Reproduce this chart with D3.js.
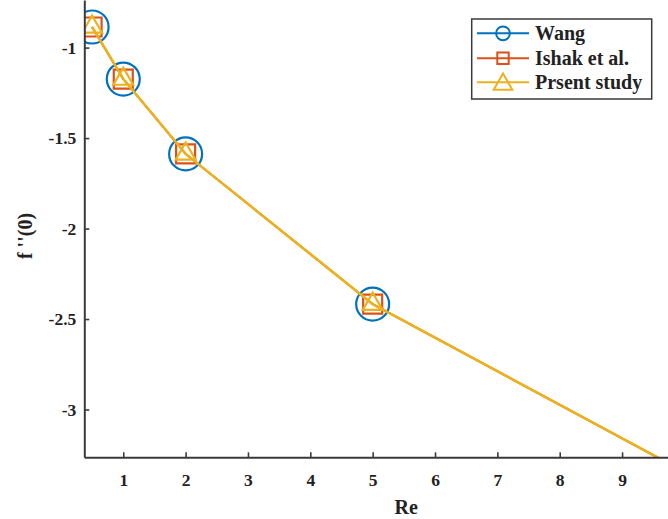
<!DOCTYPE html>
<html>
<head>
<meta charset="utf-8">
<script src="https://cdn.jsdelivr.net/npm/d3@7"></script>
<style>
  body { margin: 0; background: #fff; }
  svg { display: block; overflow: hidden; }
  text { font-family: "Liberation Serif", "Times New Roman", serif; font-weight: bold; fill: #222; }
</style>
</head>
<body>
<svg id="chart"></svg>
<script>
// data
const reValues = [0.5, 1, 2, 5, 10];
const wang = [-0.8862, -1.1737, -1.5874, -2.4175, -3.3445];
const ishak = [-0.8862, -1.1737, -1.5874, -2.4175, -3.3445];
const present = [-0.8862, -1.1737, -1.5874, -2.4175, -3.3445];
const seriesNames = ['Wang', 'Ishak et al.', 'Prsent study'];
const xTicks = [1, 2, 3, 4, 5, 6, 7, 8, 9];
const xTickLabels = ['1', '2', '3', '4', '5', '6', '7', '8', '9'];
const yTicks = [-1, -1.5, -2, -2.5, -3];
const yTickLabels = ['-1', '-1.5', '-2', '-2.5', '-3'];

const W = 668, H = 519;
const plotLeft = 84.3, plotTop = 0, plotBottom = 457.3;

const svg = d3.select('#chart').attr('width', W).attr('height', H);

const x = d3.scaleLinear().domain([0.375, 10]).range([plotLeft, plotLeft + 9.625 * 62.35]);
const y = d3.scaleLinear().domain([-3.264, -0.737]).range([plotBottom, plotTop]);

const colors = ['#0072BD', '#D95319', '#EDB120'];
const shapes = [d3.symbolCircle, d3.symbolSquare, d3.symbolTriangle];
const sizes = [Math.PI * 16.5 * 16.5, 19 * 19, 170];
const lineWidths = [1.8, 1.8, 2.6];

const data = [wang, ishak, present].map((vals, i) => ({
  name: seriesNames[i],
  values: reValues.map((r, j) => ({ re: r, v: vals[j] }))
}));

svg.append('clipPath').attr('id', 'plot-clip')
  .append('rect').attr('x', plotLeft).attr('y', plotTop)
  .attr('width', W - plotLeft).attr('height', plotBottom - plotTop);

const plot = svg.append('g').attr('clip-path', 'url(#plot-clip)');

const line = d3.line().x(d => x(d.re)).y(d => y(d.v));

// each series: line then its markers
data.forEach((s, i) => {
  plot.append('path')
    .attr('d', line(s.values))
    .attr('fill', 'none')
    .attr('stroke', colors[i])
    .attr('stroke-width', lineWidths[i]);
  plot.selectAll('.m' + i)
    .data(s.values)
    .enter()
    .append('path')
    .attr('transform', d => `translate(${x(d.re)},${y(d.v)})`)
    .attr('d', d3.symbol().type(shapes[i]).size(sizes[i]))
    .attr('fill', 'none')
    .attr('stroke', colors[i])
    .attr('stroke-width', 2.2);
});

// axes
const xAxis = svg.append('g')
  .attr('transform', `translate(0,${plotBottom})`)
  .call(d3.axisBottom(x).tickValues(xTicks).tickFormat((d, i) => xTickLabels[i])
    .tickSizeInner(-5).tickSizeOuter(0).tickPadding(16));
const yAxis = svg.append('g')
  .attr('transform', `translate(${plotLeft},0)`)
  .call(d3.axisLeft(y).tickValues(yTicks).tickFormat((d, i) => yTickLabels[i])
    .tickSizeInner(-5).tickSizeOuter(0).tickPadding(8));

[xAxis, yAxis].forEach(a => {
  a.select('.domain').attr('stroke', '#3a3a3a').attr('stroke-width', 2);
  a.selectAll('.tick line').attr('stroke', '#3a3a3a').attr('stroke-width', 1.6);
  a.selectAll('.tick text')
    .style('font-family', '"Liberation Serif", serif')
    .style('font-weight', 'bold')
    .style('font-size', '17.5px')
    .attr('fill', '#222');
});

svg.append('text')
  .attr('x', (plotLeft + W) / 2 + 30)
  .attr('y', 514)
  .attr('text-anchor', 'middle')
  .style('font-size', '20px')
  .text('Re');

svg.append('text')
  .attr('transform', `translate(32,${236}) rotate(-90)`)
  .attr('text-anchor', 'middle')
  .style('font-size', '20px')
  .text("f ''(0)");

// legend
const lg = svg.append('g');
lg.append('rect')
  .attr('x', 471.7).attr('y', 19).attr('width', 180).attr('height', 80)
  .attr('fill', '#fff').attr('stroke', '#3a3a3a').attr('stroke-width', 1.5);
const legendY = [33.3, 58.3, 82.3];
data.forEach((s, i) => {
  const g = lg.append('g').attr('transform', `translate(0,${legendY[i]})`);
  g.append('line').attr('x1', 477).attr('x2', 529).attr('y1', 0).attr('y2', 0)
    .attr('stroke', colors[i]).attr('stroke-width', 2);
  g.append('path')
    .attr('transform', i === 2 ? 'translate(503,2)' : 'translate(503,0)')
    .attr('d', d3.symbol().type(shapes[i]).size([150, 130, 150][i]))
    .attr('fill', 'none').attr('stroke', colors[i]).attr('stroke-width', 2);
  g.append('text').attr('x', 535).attr('y', 0).attr('dy', '0.35em')
    .style('font-size', '20px')
    .text(s.name);
});
</script>
</body>
</html>
